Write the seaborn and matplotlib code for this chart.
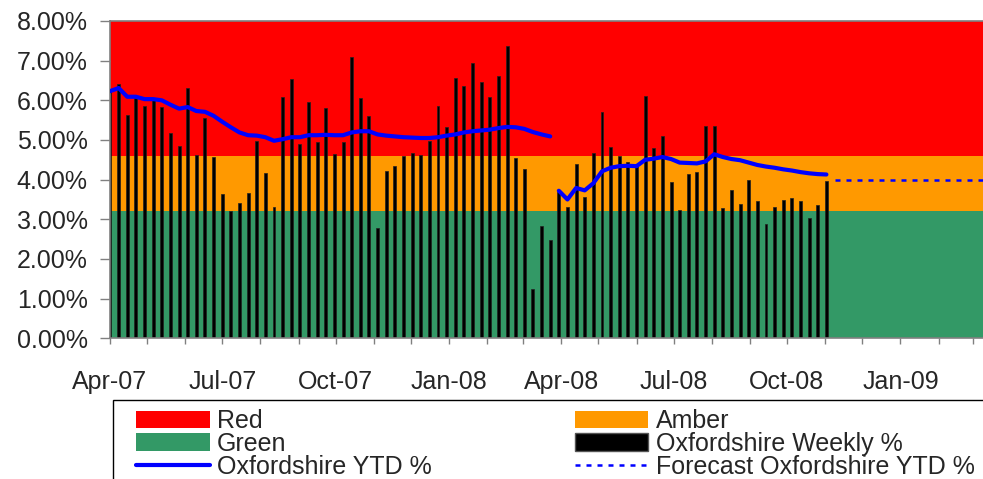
import numpy as np
import pandas as pd
import matplotlib
matplotlib.use("Agg")
import matplotlib.pyplot as plt
import matplotlib.dates as mdates
from matplotlib.ticker import PercentFormatter
from matplotlib.patches import Patch, Rectangle
from matplotlib.lines import Line2D
import seaborn as sns

# weekly % from week starting 1 Apr 2007
weekly_pct = [6.25, 6.42, 5.62, 6.06, 5.85, 6.00, 5.84, 5.18, 4.86, 6.30,
              4.62, 5.56, 4.57, 3.64, 3.21, 3.41, 3.66, 4.97, 4.17, 3.32,
              6.08, 6.54, 4.91, 5.97, 4.96, 5.81, 4.65, 4.96, 7.08, 6.06,
              5.61, 2.77, 4.21, 4.35, 4.59, 4.67, 4.61, 4.98, 5.85, 5.33,
              6.57, 6.35, 6.95, 6.46, 6.08, 6.62, 7.38, 4.55, 4.28, 1.25,
              2.84, 2.47, 3.70, 3.32, 4.39, 3.55, 4.67, 5.71, 4.83, 4.60,
              4.45, 4.35, 6.12, 4.81, 5.10, 3.94, 3.24, 4.15, 4.19, 5.35,
              5.35, 3.28, 3.74, 3.39, 3.98, 3.45, 2.87, 3.32, 3.48, 3.54,
              3.45, 3.03, 3.35, 3.96]

# year to date, 2007/08 financial year
ytd_0708 = [6.23, 6.31, 6.09, 6.09, 6.03, 6.03, 6.00, 5.89, 5.79, 5.83,
            5.73, 5.71, 5.61, 5.46, 5.32, 5.19, 5.12, 5.11, 5.07, 4.98,
            5.02, 5.07, 5.07, 5.12, 5.12, 5.13, 5.12, 5.12, 5.19, 5.22,
            5.22, 5.14, 5.11, 5.09, 5.07, 5.06, 5.05, 5.05, 5.07, 5.11,
            5.14, 5.19, 5.22, 5.24, 5.26, 5.30, 5.33, 5.32, 5.28, 5.20,
            5.14, 5.09]

# year to date, 2008/09
ytd_0809 = [3.72, 3.50, 3.79, 3.73, 3.91, 4.21, 4.30, 4.34, 4.35, 4.34,
            4.50, 4.53, 4.57, 4.52, 4.43, 4.42, 4.41, 4.46, 4.64, 4.57,
            4.52, 4.49, 4.43, 4.37, 4.33, 4.30, 4.26, 4.23, 4.19, 4.16,
            4.14, 4.13]

forecast_ytd = [4.0, 4.0, 4.0, 4.0, 4.0, 4.0, 4.0, 4.0, 4.0, 4.0, 4.0,
                4.0, 4.0, 4.0, 4.0, 4.0, 4.0, 4.0, 4.0, 4.0, 4.0]

# RAG bands
green_top = 3.2
amber_top = 4.6
red_top = 8.0

start = pd.Timestamp("2007-04-01")
weeks = pd.date_range(start, periods=len(weekly_pct) + len(forecast_ytd), freq="7D")
x_all = mdates.date2num(weeks)
x_week = x_all[:len(weekly_pct)]
x_0708 = x_all[:len(ytd_0708)]
x_0809 = x_all[len(ytd_0708):len(weekly_pct)]
x_fc = x_all[len(weekly_pct):]

sns.set_style("white")
plt.rcParams["font.family"] = ["Liberation Sans", "DejaVu Sans"]

fig = plt.figure(figsize=(9.83, 4.79), dpi=100)
ax = fig.add_axes([0.1119, 0.2937, 0.8881, 0.6625])

ax.axhspan(0, green_top, color="#339966", lw=0, zorder=0)
ax.axhspan(green_top, amber_top, color="#FF9900", lw=0, zorder=0)
ax.axhspan(amber_top, red_top, color="#FF0000", lw=0, zorder=0)

sns.barplot(x=x_week, y=weekly_pct, native_scale=True, width=0.34,
            color="black", edgecolor="#222222", linewidth=0.5,
            saturation=1, ax=ax, zorder=2)
sns.lineplot(x=x_0708, y=ytd_0708, color="#0000FF", lw=3, ax=ax, zorder=3)
sns.lineplot(x=x_0809, y=ytd_0809, color="#0000FF", lw=3, ax=ax, zorder=3)
sns.lineplot(x=x_fc, y=forecast_ytd, color="#0000FF", lw=1.8,
             dashes=False, ax=ax, zorder=3)
ax.lines[-1].set_dashes((2.0, 2.4))

ax.set_xlim(mdates.date2num(start), mdates.date2num(pd.Timestamp("2009-03-09")))
ax.set_ylim(0, 8)
ax.set(xlabel="", ylabel="")

ax.yaxis.set_major_locator(plt.MultipleLocator(1))
ax.yaxis.set_major_formatter(PercentFormatter(xmax=100, decimals=2))
ax.xaxis.set_major_locator(mdates.MonthLocator(bymonth=[1, 4, 7, 10]))
ax.xaxis.set_minor_locator(mdates.MonthLocator())
ax.xaxis.set_major_formatter(mdates.DateFormatter("%b-%y"))

ax.tick_params(axis="y", which="major", length=7, width=1, color="#808080",
               pad=9, labelsize=18, left=True, direction="out")
ax.tick_params(axis="x", which="both", length=4.5, width=1, color="#808080",
               pad=18, labelsize=18, bottom=True, direction="out")

for side in ["left", "bottom", "top"]:
    ax.spines[side].set_color("#808080")
    ax.spines[side].set_linewidth(1.2)
ax.spines["right"].set_visible(False)

# legend box
fig.patches.append(Rectangle((113 / 983, -0.05), 1.0, 0.05 + 79 / 479,
                             transform=fig.transFigure, fill=False,
                             edgecolor="black", lw=1))
handles = [Patch(facecolor="#FF0000", edgecolor="none"),
           Patch(facecolor="#339966", edgecolor="none"),
           Line2D([], [], color="#0000FF", lw=3),
           Patch(facecolor="#FF9900", edgecolor="none"),
           Patch(facecolor="black", edgecolor="#555555"),
           Line2D([], [], color="#0000FF", lw=1.8, dashes=(2.0, 2.4))]
labels = ["Red", "Green", "Oxfordshire YTD %",
          "Amber", "Oxfordshire Weekly %", "Forecast Oxfordshire YTD %"]
fig.legend(handles, labels, ncol=2, loc="upper left",
           bbox_to_anchor=(136 / 983, 0.146), frameon=False, fontsize=18,
           borderpad=0, borderaxespad=0, handlelength=2.95, handleheight=0.7,
           handletextpad=0.3, columnspacing=5.7, labelspacing=-0.05)

fig.savefig("out.png", dpi=100)
